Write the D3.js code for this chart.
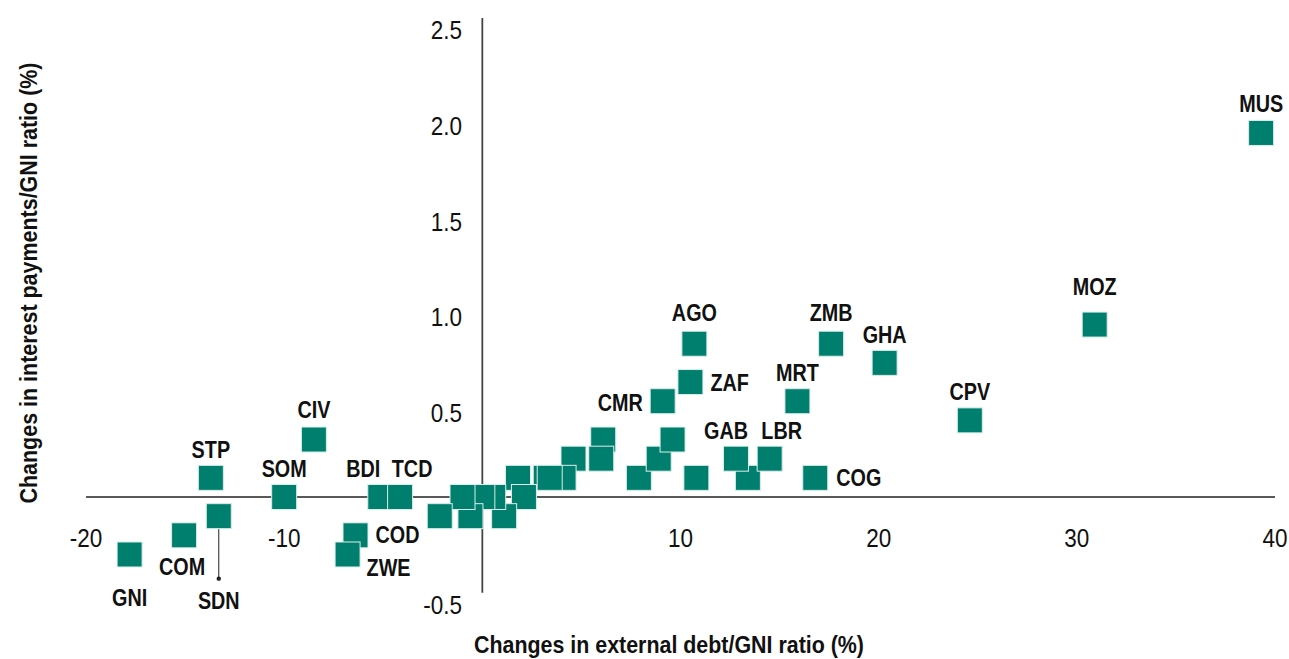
<!DOCTYPE html>
<html>
<head>
<meta charset="utf-8">
<script src="https://cdn.jsdelivr.net/npm/d3@7"></script>
<style>
  html, body { margin: 0; padding: 0; background: #ffffff; }
  svg { display: block; }
  text { font-family: "Liberation Sans", Arial, sans-serif; fill: #111; }
</style>
</head>
<body>
<svg id="chart" width="1289" height="659"></svg>
<script>
// ---------------- data ----------------
const countries = ["MUS","MOZ","CPV","GHA","ZMB","AGO","ZAF","CMR","MRT","GAB","LBR","COG",
                   "CIV","STP","SOM","BDI","TCD","COD","ZWE","COM","GNI","SDN",
                   "","","","","","","","","","","","","","","","","","",""];
const debtChange = [39.3, 30.9, 24.6, 20.3, 17.6, 10.7, 10.5, 9.1, 15.9, 12.8, 14.5, 16.8,
                    -8.5, -13.7, -10.0, -5.15, -4.15, -6.4, -6.8, -15.05, -17.8, -13.3,
                    13.4, 10.8, 7.9, 8.9, 9.6, 6.1, 6.0, 4.6, 4.1, 3.2, 3.4, 1.8, 2.1, 1.1, 0.55, 0.0, -0.6, -1.0, -2.15];
const interestChange = [1.9, 0.9, 0.4, 0.7, 0.8, 0.8, 0.6, 0.5, 0.5, 0.2, 0.2, 0.1,
                        0.3, 0.1, 0.0, 0.0, 0.0, -0.2, -0.3, -0.2, -0.3, -0.1,
                        0.1, 0.1, 0.1, 0.2, 0.3, 0.3, 0.2, 0.2, 0.1, 0.1, 0.1, 0.1, 0.0, -0.1, 0.0, 0.0, -0.1, 0.0, -0.1];
const xTicks = [-20, -10, 10, 20, 30, 40];
const xTickLabels = ["-20", "-10", "10", "20", "30", "40"];
const yTicks = [-0.5, 0.5, 1.0, 1.5, 2.0, 2.5];
const yTickLabels = ["-0.5", "0.5", "1.0", "1.5", "2.0", "2.5"];
const xTitle = "Changes in external debt/GNI ratio (%)";
const yTitle = "Changes in interest payments/GNI ratio (%)";

// label placement (layout only): anchor, dx, dy of label centre relative to marker centre
const labelLayout = {
  MUS: ["middle", 0, -29], MOZ: ["middle", 0, -38], CPV: ["middle", 0, -28.5], GHA: ["middle", 0, -28],
  ZMB: ["middle", 0, -31], AGO: ["middle", 0, -31], ZAF: ["start", 20, 1], CMR: ["end", -20, 1.5],
  MRT: ["middle", 0, -29], GAB: ["middle", -10, -28], LBR: ["middle", 12, -28], COG: ["start", 21, 0],
  CIV: ["middle", 0, -29.5], STP: ["middle", 0, -28], SOM: ["middle", 0, -28.5], BDI: ["middle", -17, -28.5],
  TCD: ["middle", 12, -28.5], COD: ["start", 20, -1], ZWE: ["start", 19, 13.5], COM: ["middle", -2, 31.5],
  GNI: ["middle", 0, 43], SDN: ["middle", 0, 84.5]
};

// ---------------- chart ----------------
const svg = d3.select("#chart");
const x = d3.scaleLinear().domain([-20, 40]).range([86, 1275]);
const y = d3.scaleLinear().domain([-0.5, 2.5]).range([592.8, 18]);
const size = 25;
const teal = "#007f6e";

// axes lines through origin
svg.append("line").attr("x1", x(-20)).attr("x2", x(40)).attr("y1", y(0)).attr("y2", y(0))
  .attr("stroke", "#222").attr("stroke-width", 1.6);
svg.append("line").attr("x1", x(0)).attr("x2", x(0)).attr("y1", y(2.5)).attr("y2", y(-0.5))
  .attr("stroke", "#444").attr("stroke-width", 1.8);

// tick labels
svg.append("g").selectAll("text").data(xTicks).join("text")
  .attr("transform", d => `translate(${x(d)},${y(0) + 50}) scale(0.9,1)`)
  .attr("text-anchor", "middle").attr("font-size", 25)
  .text((d, i) => xTickLabels[i]);
svg.append("g").selectAll("text").data(yTicks).join("text")
  .attr("transform", d => `translate(462,${y(d) + 21}) scale(0.9,1)`)
  .attr("text-anchor", "end").attr("font-size", 25)
  .text((d, i) => yTickLabels[i]);

// titles
svg.append("text").attr("x", 669).attr("y", 653)
  .attr("text-anchor", "middle").attr("font-size", 24).attr("font-weight", "bold")
  .attr("textLength", 390).attr("lengthAdjust", "spacingAndGlyphs")
  .text(xTitle);
svg.append("text").attr("transform", "translate(37,283) rotate(-90)")
  .attr("text-anchor", "middle").attr("font-size", 24).attr("font-weight", "bold")
  .attr("textLength", 441).attr("lengthAdjust", "spacingAndGlyphs")
  .text(yTitle);

const pts = countries.map((c, i) => ({ c, x: debtChange[i], y: interestChange[i] }));

// SDN leader line
const sdn = pts.find(p => p.c === "SDN");
svg.append("line").attr("x1", x(sdn.x)).attr("x2", x(sdn.x))
  .attr("y1", y(sdn.y) + size / 2).attr("y2", y(sdn.y) + 62.5)
  .attr("stroke", "#222").attr("stroke-width", 1);
svg.append("circle").attr("cx", x(sdn.x)).attr("cy", y(sdn.y) + 62.5).attr("r", 2.2).attr("fill", "#222");

// markers (unlabelled first so labelled countries sit on top)
const order = pts.slice().sort((a, b) => (a.c === "" ? 0 : 1) - (b.c === "" ? 0 : 1));
svg.append("g").selectAll("rect").data(order).join("rect")
  .attr("x", d => x(d.x) - size / 2).attr("y", d => y(d.y) - size / 2)
  .attr("width", size).attr("height", size)
  .attr("fill", teal).attr("stroke", "#d9eeea").attr("stroke-width", 1);

// labels
svg.append("g").selectAll("text").data(pts.filter(p => p.c !== "")).join("text")
  .attr("transform", d => `translate(${x(d.x) + labelLayout[d.c][1]},${y(d.y) + labelLayout[d.c][2] + 8.3}) scale(0.86,1)`)
  .attr("text-anchor", d => labelLayout[d.c][0])
  .attr("font-size", 23).attr("font-weight", "bold")
  .text(d => d.c);
</script>
</body>
</html>
